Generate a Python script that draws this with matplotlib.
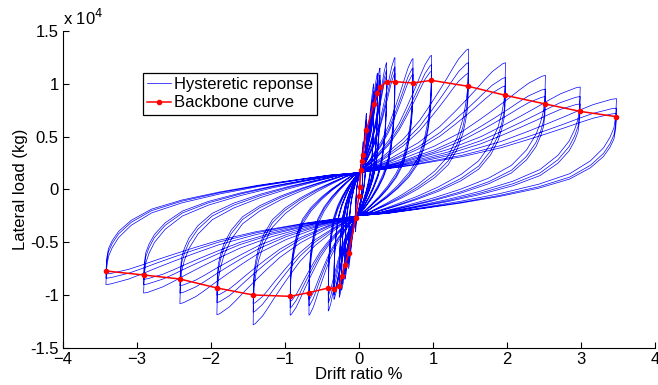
import numpy as np
import matplotlib.pyplot as plt

plt.rcParams['font.family'] = ['Liberation Sans', 'DejaVu Sans']

# Backbone curve (drift %, load in 1e4 kg)
bb_drift = [-3.42, -2.91, -2.42, -1.92, -1.43, -0.93, -0.676, -0.415, -0.338, -0.266,
            -0.234, -0.19, -0.14, -0.045, 0.0, 0.009, 0.027, 0.045, 0.054, 0.1, 0.2,
            0.25, 0.284, 0.374, 0.486, 0.73, 0.98, 1.48, 1.98, 2.52, 2.99, 3.48]
bb_load = [-0.771, -0.809, -0.847, -0.932, -0.998, -1.011, -0.976, -0.932, -0.94, -0.916,
           -0.82, -0.717, -0.6, -0.27, -0.057, 0.025, 0.183, 0.268, 0.325, 0.56, 0.81,
           0.916, 0.97, 1.02, 1.02, 1.008, 1.033, 0.976, 0.891, 0.809, 0.739, 0.689]

# Target drifts of each loading level and the peak loads of its three cycles
pos_drift = [0.054, 0.1, 0.2, 0.25, 0.284, 0.374, 0.486, 0.73, 0.98, 1.48, 1.98, 2.52, 2.99, 3.48]
neg_drift = [-0.045, -0.14, -0.19, -0.234, -0.266, -0.338, -0.415, -0.676, -0.93, -1.43,
             -1.92, -2.42, -2.91, -3.42]
pos_peak = [[0.45, 0.40, 0.37], [0.72, 0.66, 0.62], [1.0, 0.93, 0.88], [1.1, 1.03, 0.98],
            [1.15, 1.08, 1.03], [1.2, 1.13, 1.08], [1.25, 1.16, 1.1], [1.24, 1.15, 1.09],
            [1.27, 1.18, 1.12], [1.33, 1.2, 1.1], [1.2, 1.06, 0.98], [1.08, 0.95, 0.88],
            [0.97, 0.88, 0.81], [0.86, 0.77, 0.72]]
neg_peak = [[-0.4, -0.36, -0.33], [-0.75, -0.7, -0.66], [-0.85, -0.8, -0.76],
            [-0.95, -0.9, -0.86], [-1.02, -0.98, -0.95], [-1.04, -1.0, -0.97],
            [-1.15, -1.07, -1.0], [-1.19, -1.1, -1.04], [-1.19, -1.12, -1.06],
            [-1.28, -1.16, -1.08], [-1.185, -1.07, -1.0], [-1.08, -0.98, -0.91],
            [-0.98, -0.9, -0.85], [-0.9, -0.84, -0.8]]

# Pinching points the branches pass through
pinch_pos = (0.01, 0.16)
pinch_neg = (-0.03, -0.25)

# Branch shapes (fraction of the way in drift, fraction of the way in load)
load_s = [0, 0.2, 0.4, 0.55, 0.65, 0.73, 0.8, 0.86, 0.91, 0.95, 0.98, 1.0]
load_f = [0, 0.12, 0.27, 0.42, 0.55, 0.66, 0.76, 0.85, 0.92, 0.96, 0.99, 1.0]
unload_u = [0, 0.003, 0.01, 0.025, 0.05, 0.1, 0.18, 0.3, 0.45, 0.6, 0.75, 0.88, 1.0]
unload_g = [0, 0.15, 0.25, 0.33, 0.42, 0.53, 0.64, 0.73, 0.81, 0.875, 0.93, 0.975, 1.0]


def branch(start, end, xs, ys):
    x0, y0 = start
    x1, y1 = end
    return ([x0 + s * (x1 - x0) for s in xs], [y0 + f * (y1 - y0) for f in ys])


hx, hy = [0.0], [0.0]
for i in range(len(pos_drift)):
    for c in range(3):
        tip_p = (pos_drift[i], pos_peak[i][c])
        tip_n = (neg_drift[i], neg_peak[i][c])
        for seg in (branch(pinch_pos, tip_p, load_s, load_f),
                    branch(tip_p, pinch_neg, unload_u, unload_g),
                    branch(pinch_neg, tip_n, load_s, load_f),
                    branch(tip_n, pinch_pos, unload_u, unload_g)):
            hx += seg[0]
            hy += seg[1]

fig = plt.figure(figsize=(6.58, 3.85), dpi=100)
ax = fig.add_axes([0.0957, 0.0961, 0.8997, 0.8234])

ax.plot(hx, hy, color='b', lw=0.5, label='Hysteretic reponse')
ax.plot(bb_drift, bb_load, color='r', lw=1.1, marker='.', markersize=6, label='Backbone curve')

ax.set_xlim(-4, 4)
ax.set_ylim(-1.5, 1.5)
ax.set_xticks(np.arange(-4, 5, 1))
ax.set_yticks([-1.5, -1, -0.5, 0, 0.5, 1, 1.5])
ax.set_yticklabels(['-1.5', '-1', '-0.5', '0', '0.5', '1', '1.5'])
ax.tick_params(direction='in', length=4, labelsize=12, width=0.8, pad=3)
for s in ['top', 'right']:
    ax.spines[s].set_visible(False)

ax.set_xlabel('Drift ratio %', fontsize=12, labelpad=0)
ax.set_ylabel('Lateral load (kg)', fontsize=12, labelpad=2)
ax.text(0.0, 1.01, 'x 10$^4$', transform=ax.transAxes, fontsize=12, va='bottom')

leg = ax.legend(loc='upper left', bbox_to_anchor=(0.135, 0.8675), borderaxespad=0,
                fontsize=12, fancybox=False, edgecolor='black', framealpha=1,
                handlelength=1.45, handletextpad=0.15, borderpad=0.25, labelspacing=0.2)
leg.get_frame().set_linewidth(0.9)

fig.savefig('out.png', dpi=100)
